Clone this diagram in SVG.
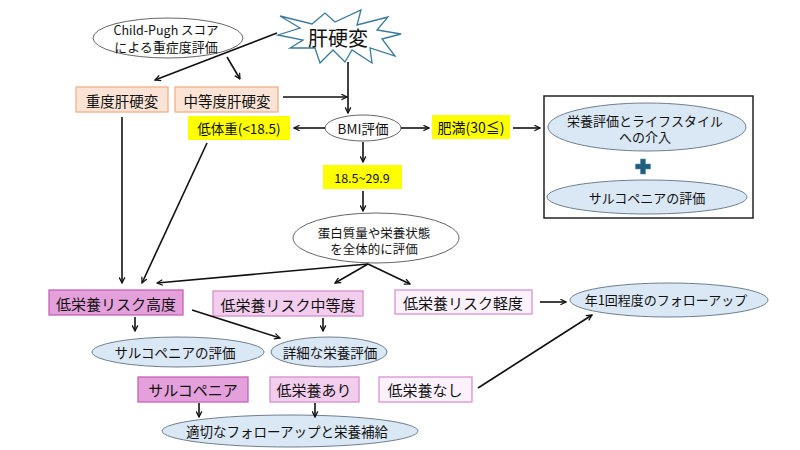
<svg xmlns="http://www.w3.org/2000/svg" width="800" height="450" viewBox="0 0 800 450">
<defs>
<style>
text{font-family:"Noto Sans CJK JP","Noto Sans",sans-serif;fill:#111;text-anchor:middle;dominant-baseline:central}
.peach{fill:#FBE4D5;stroke:#F1B08A;stroke-width:1.3}
.yel{fill:#FFFF00;stroke:none}
.pk1{fill:#E4A0DA;stroke:#C562B6;stroke-width:1.3}
.pk2{fill:#F3CDEE;stroke:#D48FCB;stroke-width:1.3}
.pk3{fill:#FDF1FC;stroke:#DA93D1;stroke-width:1.3}
.wel{fill:#fff;stroke:#666;stroke-width:1}
.bel{fill:#DAE7F4;stroke:#6F7F8F;stroke-width:1}
.c line{stroke:#111;stroke-width:1.6;marker-end:url(#ah)}
</style>
<marker id="ah" viewBox="0 0 10 10" refX="9" refY="5" markerWidth="7" markerHeight="7" markerUnits="userSpaceOnUse" orient="auto">
<path d="M1,1 L9,5 L1,9" fill="none" stroke="#111" stroke-width="1.8"/>
</marker>
</defs>
<rect width="800" height="450" fill="#fff"/>

<g id="childpugh">
<ellipse class="wel" cx="168" cy="38" rx="75" ry="20"/>
<text x="166" y="29" font-size="12.5">Child-Pugh スコア</text>
<text x="166" y="46" font-size="13">による重症度評価</text>
</g>

<g id="cirrhosis">
<polygon points="280,16 312,24 325,13 335,22 361,10 357,25 388,17 377,30 401,34 382,39 395,56 370,48 372,63 352,50 345,62 333,50 320,63 315,48 290,48 303,40 278,35 300,28" fill="#fff" stroke="#3A7A99" stroke-width="1.3"/>
<text x="338" y="37" font-size="20">肝硬変</text>
</g>

<g id="severe">
<rect class="peach" x="76" y="87" width="92" height="25"/>
<text x="122" y="100" font-size="14.5">重度肝硬変</text>
</g>
<g id="moderate">
<rect class="peach" x="175" y="87" width="103" height="25"/>
<text x="227" y="100" font-size="14.5">中等度肝硬変</text>
</g>

<g id="bmi">
<ellipse class="wel" cx="363" cy="128" rx="38" ry="13"/>
<text x="363" y="128" font-size="13.5">BMI評価</text>
</g>
<g id="underweight">
<rect class="yel" x="188" y="116" width="102" height="24"/>
<text x="239" y="128" font-size="13.5">低体重(&lt;18.5)</text>
</g>
<g id="obese">
<rect class="yel" x="432" y="115" width="78" height="24"/>
<text x="471" y="127" font-size="14">肥満(30≦)</text>
</g>
<g id="normal">
<rect class="yel" x="323" y="165" width="79" height="24"/>
<text x="362" y="177" font-size="12.5">18.5~29.9</text>
</g>

<g id="obesebox">
<rect x="544" y="96" width="209" height="122" fill="#fff" stroke="#222" stroke-width="1.5"/>
<ellipse class="bel" cx="647" cy="127" rx="99" ry="24"/>
<text x="645" y="120" font-size="13">栄養評価とライフスタイル</text>
<text x="645" y="136" font-size="13">への介入</text>
<path d="M640.5,159 h5 v5 h5 v5 h-5 v5 h-5 v-5 h-5 v-5 h5 z" fill="#1F5E7E" stroke="#5A8AA5" stroke-width="0.6"/>
<ellipse class="bel" cx="647" cy="197" rx="100" ry="17"/>
<text x="647" y="197" font-size="13">サルコペニアの評価</text>
</g>

<g id="protein">
<ellipse class="wel" cx="376" cy="238" rx="83" ry="25"/>
<text x="374" y="232" font-size="12.5">蛋白質量や栄養状態</text>
<text x="374" y="248" font-size="12.5">を全体的に評価</text>
</g>

<g id="riskhigh">
<rect class="pk1" x="49" y="290" width="134" height="25"/>
<text x="116" y="303" font-size="15">低栄養リスク高度</text>
</g>
<g id="riskmid">
<rect class="pk2" x="213" y="291" width="150" height="25"/>
<text x="288" y="304" font-size="15">低栄養リスク中等度</text>
</g>
<g id="risklow">
<rect class="pk3" x="395" y="290" width="137" height="24"/>
<text x="463" y="302" font-size="15">低栄養リスク軽度</text>
</g>

<g id="sarcoeval">
<ellipse class="bel" cx="178" cy="352" rx="86" ry="15"/>
<text x="175" y="352" font-size="13.5">サルコペニアの評価</text>
</g>
<g id="detailed">
<ellipse class="bel" cx="329" cy="352" rx="58" ry="15"/>
<text x="330" y="352" font-size="13.5">詳細な栄養評価</text>
</g>
<g id="yearly">
<ellipse class="bel" cx="669" cy="300" rx="99" ry="17"/>
<text x="666" y="299" font-size="13">年1回程度のフォローアップ</text>
</g>

<g id="sarco">
<rect class="pk1" x="138" y="377" width="110" height="25"/>
<text x="193" y="389" font-size="15">サルコペニア</text>
</g>
<g id="malyes">
<rect class="pk2" x="270" y="377" width="89" height="25"/>
<text x="314" y="389" font-size="15">低栄養あり</text>
</g>
<g id="malno">
<rect class="pk3" x="379" y="377" width="93" height="25"/>
<text x="425" y="389" font-size="15">低栄養なし</text>
</g>

<g id="followup">
<ellipse class="bel" cx="290" cy="431" rx="128" ry="16"/>
<text x="287" y="431" font-size="13.5">適切なフォローアップと栄養補給</text>
</g>

<g class="c" id="connectors">
<line x1="277" y1="33" x2="155" y2="80"/>
<line x1="227" y1="57" x2="240" y2="79"/>
<line x1="348" y1="62" x2="348" y2="113"/>
<line x1="283" y1="97" x2="347" y2="97"/>
<line x1="325" y1="128" x2="294" y2="128"/>
<line x1="401" y1="128" x2="429" y2="128"/>
<line x1="513" y1="128" x2="540" y2="128"/>
<line x1="363" y1="142" x2="363" y2="162"/>
<line x1="363" y1="191" x2="363" y2="211"/>
<line x1="122" y1="117" x2="122" y2="283"/>
<line x1="207" y1="143" x2="142" y2="283"/>
<line x1="368" y1="264" x2="157" y2="283"/>
<line x1="368" y1="264" x2="335" y2="283"/>
<line x1="368" y1="264" x2="410" y2="284"/>
<line x1="135" y1="317" x2="135" y2="331"/>
<line x1="192" y1="310" x2="280" y2="338"/>
<line x1="323" y1="318" x2="323" y2="331"/>
<line x1="540" y1="302" x2="566" y2="302"/>
<line x1="478" y1="388" x2="592" y2="315"/>
<line x1="199" y1="403" x2="199" y2="417"/>
<line x1="315" y1="403" x2="315" y2="417"/>
</g>
</svg>
